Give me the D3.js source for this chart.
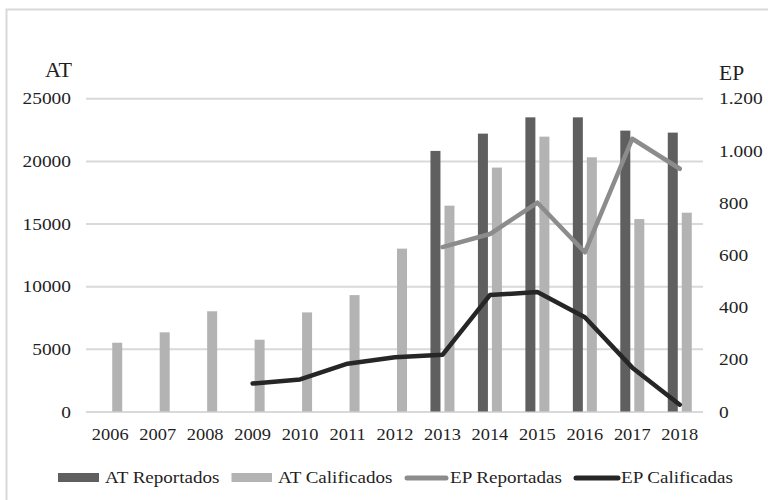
<!DOCTYPE html>
<html><head><meta charset="utf-8">
<script src="https://cdn.jsdelivr.net/npm/d3@7"></script>
<style>
html,body{margin:0;padding:0;background:#fff;}
</style></head>
<body><svg id="c" width="768" height="500"></svg>
<script>
const years = ["2006","2007","2008","2009","2010","2011","2012","2013","2014","2015","2016","2017","2018"];
const atReportados = [null,null,null,null,null,null,null,20800,22180,23480,23480,22420,22260];
const atCalificados = [5490,6320,8000,5730,7910,9290,13000,16430,19470,21940,20290,15360,15870];
const epReportadas = [null,null,null,null,null,null,null,630,680,800,610,1045,930];
const epCalificadas = [null,null,null,107,123,183,208,217,446,458,361,168,26];
const leftTicks = [0,5000,10000,15000,20000,25000];
const rightTicks = [0,200,400,600,800,1000,1200];
const seriesNames = ["AT Reportados","AT Calificados","EP Reportadas","EP Calificadas"];

const colors = {"AT Reportados":"#5f5f5f","AT Calificados":"#b3b3b3","EP Reportadas":"#8c8c8c","EP Calificadas":"#262626"};
const FONT = "'Liberation Serif', 'Times New Roman', Times, serif";
const SX = 1.19;
const svg = d3.select("#c");

svg.append("rect").attr("x",6.5).attr("y",9.5).attr("width",900).attr("height",700)
  .attr("fill","none").attr("stroke","#d9d9d9").attr("stroke-width",2);

const L=86, R=703, T=98.3, B=411.5;
const x = d3.scaleBand().domain(years).range([L,R]).padding(0);
const yL = d3.scaleLinear().domain([0,25000]).range([B,T]);
const yR = d3.scaleLinear().domain([0,1200]).range([B,T]);
const x1 = d3.scaleBand().domain(["AT Reportados","AT Calificados"]).range([-12,12]).paddingInner(2-24/14);

function styleText(sel, size){
  sel.style("font-family",FONT).style("font-size",size+"px").style("fill","#1f1f1f");
}

// grid
const grid = svg.append("g").attr("transform",`translate(${L},0)`)
  .call(d3.axisLeft(yL).tickValues(leftTicks).tickSize(-(R-L)).tickFormat(""));
grid.select(".domain").remove();
grid.selectAll(".tick line").attr("stroke","#d9d9d9").attr("stroke-width",2);

// left axis labels
const la = svg.append("g").attr("transform",`translate(${L},0)`)
  .call(d3.axisLeft(yL).tickValues(leftTicks).tickSize(0).tickFormat(d3.format("d")));
la.attr("font-family",null);
la.select(".domain").remove();
la.selectAll("text").attr("x",0).attr("dy","0.34em").call(styleText,16.3)
  .attr("transform",`translate(-15,0) scale(${SX},1)`);

// right axis labels
const loc = d3.formatLocale({decimal:",",thousands:".",grouping:[3],currency:["",""]});
const ra = svg.append("g").attr("transform",`translate(${R},0)`)
  .call(d3.axisRight(yR).tickValues(rightTicks).tickSize(0).tickFormat(loc.format(",")));
ra.attr("font-family",null);
ra.select(".domain").remove();
ra.selectAll("text").attr("x",0).attr("dy","0.34em").call(styleText,16.3)
  .attr("transform",`translate(16,0) scale(${SX},1)`);

// bottom axis labels
const ba = svg.append("g").attr("transform",`translate(0,${B})`)
  .call(d3.axisBottom(x).tickSize(0));
ba.attr("font-family",null);
ba.select(".domain").remove();
ba.selectAll("text").attr("y",0).attr("dy",0).call(styleText,16.3)
  .attr("transform",`translate(0.5,28.5) scale(${1.13},1)`);

// axis titles
svg.append("text").attr("text-anchor","end").call(styleText,20.5)
  .attr("transform",`translate(72,77) scale(1.08,1)`).text("AT");
svg.append("text").attr("text-anchor","start").call(styleText,20.5)
  .attr("transform",`translate(719,80) scale(1.05,1)`).text("EP");

// bars
const barData = [];
years.forEach((yr,i)=>{
  if(atReportados[i]!=null) barData.push({yr,key:"AT Reportados",v:atReportados[i]});
  if(atCalificados[i]!=null) barData.push({yr,key:"AT Calificados",v:atCalificados[i]});
});
svg.append("g").selectAll("rect").data(barData).join("rect")
  .attr("x",d=>x(d.yr)+x.bandwidth()/2+0.5+x1(d.key))
  .attr("width",x1.bandwidth())
  .attr("y",d=>yL(d.v))
  .attr("height",d=>B-yL(d.v))
  .attr("fill",d=>colors[d.key]);

// lines
const line = d3.line().defined(d=>d.v!=null).x(d=>x(d.yr)+x.bandwidth()/2+0.5).y(d=>yR(d.v));
[["EP Reportadas",epReportadas],["EP Calificadas",epCalificadas]].forEach(([k,arr])=>{
  svg.append("path").datum(years.map((yr,i)=>({yr,v:arr[i]})))
    .attr("d",line).attr("fill","none").attr("stroke",colors[k])
    .attr("stroke-width",4.5).attr("stroke-linejoin","round").attr("stroke-linecap","round");
});

// legend
const legendLayout = [
  {sx:58, sw:41, tx:105, type:"rect"},
  {sx:231.5, sw:40.5, tx:278, type:"rect"},
  {sx:405, sw:43, tx:450, type:"line"},
  {sx:574, sw:46, tx:621, type:"line"}
];
const lg = svg.append("g");
seriesNames.forEach((n,i)=>{
  const p = legendLayout[i];
  if(p.type==="rect"){
    lg.append("rect").attr("x",p.sx).attr("y",473).attr("width",p.sw).attr("height",9).attr("fill",colors[n]);
  } else {
    lg.append("line").attr("x1",p.sx+2).attr("x2",p.sx+p.sw-2).attr("y1",478).attr("y2",478)
      .attr("stroke",colors[n]).attr("stroke-width",5).attr("stroke-linecap","round");
  }
  lg.append("text").call(styleText,16)
    .attr("transform",`translate(${p.tx},483) scale(${SX},1)`).text(n);
});
</script></body></html>
